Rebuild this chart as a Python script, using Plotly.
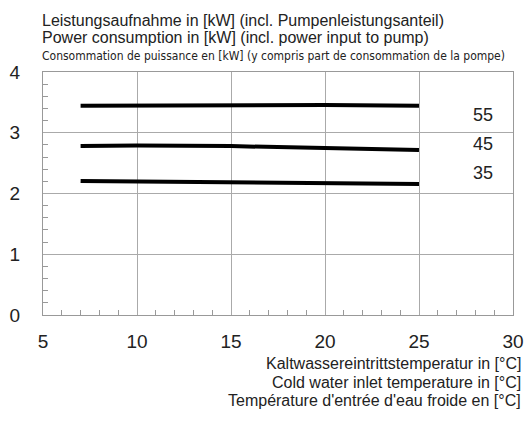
import plotly.graph_objects as go

temps = [7, 10, 15, 20, 25]
p55 = [3.445, 3.45, 3.46, 3.455, 3.445]
p45 = [2.78, 2.79, 2.78, 2.75, 2.716]
p35 = [2.206, 2.195, 2.18, 2.165, 2.155]
series = [("55", p55, 3.29), ("45", p45, 2.81), ("35", p35, 2.34)]
label_x = 28.4

fig = go.Figure()
for name, vals, ly in series:
    fig.add_trace(go.Scatter(x=temps, y=vals, mode="lines", line=dict(color="black", width=4),
                             showlegend=False, hoverinfo="skip"))
    fig.add_annotation(x=label_x, y=ly, text=name, showarrow=False,
                       font=dict(family="Liberation Sans, Arial", size=18, color="#222"))

fig.update_xaxes(range=[5, 30], dtick=5, showgrid=True, gridcolor="#aaa", gridwidth=1,
                 showline=True, linecolor="#999", mirror=True, zeroline=False, automargin=False,
                 ticks="", ticklabelstandoff=9,
                 tickfont=dict(family="Liberation Sans, Arial", size=19, color="#222"),
                 minor=dict(dtick=1, ticks="inside", ticklen=5, tickcolor="#999", showgrid=False))
fig.update_yaxes(range=[0, 4], dtick=1, showgrid=True, gridcolor="#aaa", gridwidth=1,
                 showline=True, linecolor="#999", mirror=True, zeroline=False, automargin=False,
                 ticks="", ticklabelstandoff=18,
                 tickfont=dict(family="Liberation Sans, Arial", size=19, color="#222"),
                 minor=dict(dtick=0.2, ticks="inside", ticklen=5, tickcolor="#999", showgrid=False))

titles = [
    ("Leistungsaufnahme in [kW] (incl. Pumpenleistungsanteil)", 20, 16, "Liberation Sans, Arial"),
    ("Power consumption in [kW] (incl. power input to pump)", 38, 16, "Liberation Sans, Arial"),
    ("Consommation de puissance en [kW] (y compris part de consommation de la pompe)", 56, 12,
     "DejaVu Sans Condensed, Liberation Sans Narrow, Arial Narrow"),
]
for t, py, fs, fam in titles:
    fig.add_annotation(xref="paper", yref="paper", x=-3 / 470, xanchor="left",
                       y=1 + (72 - py) / 243, yanchor="middle", text=t, showarrow=False,
                       font=dict(family=fam, size=fs, color="#222"))

xt = [
    ("Kaltwassereintrittstemperatur in [°C]", 363),
    ("Cold water inlet temperature in [°C]", 382),
    ("Température d'entrée d'eau froide en [°C]", 400),
]
for t, py in xt:
    fig.add_annotation(xref="paper", yref="paper", x=1 + 10 / 470, xanchor="right",
                       y=-(py - 315) / 243, yanchor="middle", text=t, showarrow=False,
                       font=dict(family="Liberation Sans, Arial", size=16, color="#222"))

fig.update_layout(width=526, height=422, margin=dict(l=43, r=13, t=72, b=107),
                  plot_bgcolor="white", paper_bgcolor="white")
fig.write_html("out.html", config={"displayModeBar": False},
               post_script="document.body.style.margin='0';document.body.style.overflow='hidden';")
